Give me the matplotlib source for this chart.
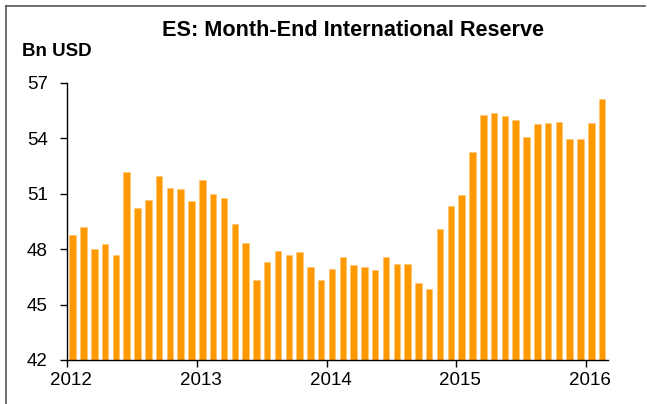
import matplotlib
matplotlib.use("Agg")
import numpy as np
from matplotlib import pyplot as plt
from matplotlib.transforms import ScaledTranslation

# monthly month-end reserves, Jan 2012 .. Feb 2016 (Bn USD)
months = np.arange(50)
reserves = [48.76, 49.17, 48.02, 48.27, 47.68, 52.16, 50.20, 50.68, 51.96, 51.30, 51.24, 50.58,
            51.73, 50.99, 50.79, 49.35, 48.34, 46.32, 47.28, 47.89, 47.69, 47.82, 47.01, 46.31,
            46.92, 47.57, 47.14, 47.01, 46.88, 47.57, 47.19, 47.17, 46.14, 45.82, 49.08, 50.32,
            50.92, 53.24, 55.24, 55.35, 55.19, 55.01, 54.07, 54.77, 54.85, 54.88, 53.95, 53.95,
            54.85, 56.13]
year_ticks = [0, 12, 24, 36, 48]
year_labels = ["2012", "2013", "2014", "2015", "2016"]
y_ticks = [42, 45, 48, 51, 54, 57]

plt.rcParams['font.family'] = ['Liberation Sans', 'DejaVu Sans']

fig = plt.figure(figsize=(6.47, 4.04), dpi=100)
ax = fig.add_axes([0.104, 0.109, 0.835, 0.686])

ax.bar(months + 0.5, reserves, width=0.6, color='#FF9900', edgecolor='#FFC46E', linewidth=0.4)

ax.set_xlim(0, 50.0)
ax.set_ylim(42, 57)
ax.set_yticks(y_ticks)
ax.set_xticks(year_ticks)
ax.set_xticklabels(year_labels)
ax.tick_params(axis='both', direction='out', length=5, width=1, labelsize=13.5, colors='black')
ax.tick_params(axis='y', pad=9)
ax.tick_params(axis='x', pad=4)
for lbl in ax.get_xticklabels():
    lbl.set_transform(lbl.get_transform() + ScaledTranslation(4 / 100, 0, fig.dpi_scale_trans))

for s in ['top', 'right']:
    ax.spines[s].set_visible(False)
for s in ['left', 'bottom']:
    ax.spines[s].set_linewidth(1)
    ax.spines[s].set_color('black')

fig.text(353 / 647, 1 - 30 / 404, "ES: Month-End International Reserve", ha='center', va='center',
         fontsize=15.6, fontweight='bold')
fig.text(22 / 647, 1 - 52 / 404, "Bn USD", ha='left', va='center', fontsize=13.5, fontweight='bold')

# frame lines (top and left only, as in the source image)
fig.add_artist(plt.Line2D([5.5 / 647, 645 / 647], [1 - 6 / 404, 1 - 6 / 404], color='#555555', linewidth=1.2))
fig.add_artist(plt.Line2D([5.5 / 647, 5.5 / 647], [0, 1 - 6 / 404], color='#555555', linewidth=1.2))

fig.savefig('out.png', dpi=100)
